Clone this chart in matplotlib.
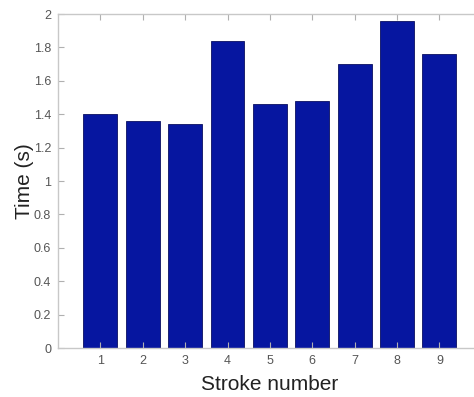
import matplotlib
matplotlib.use("Agg")
import matplotlib.pyplot as plt

plt.rcParams.update({
    "font.family": ["Liberation Sans", "DejaVu Sans"],
})

strokes = [1, 2, 3, 4, 5, 6, 7, 8, 9]
times = [1.40, 1.36, 1.34, 1.84, 1.46, 1.48, 1.70, 1.96, 1.76]
yticks = [0, 0.2, 0.4, 0.6, 0.8, 1, 1.2, 1.4, 1.6, 1.8, 2]
ytick_labels = ['0', '0.2', '0.4', '0.6', '0.8', '1', '1.2', '1.4', '1.6', '1.8', '2']

fig = plt.figure(figsize=(4.74, 3.97), dpi=100)
ax = fig.add_axes([0.1224, 0.1234, 0.894, 0.8413])

ax.bar(strokes, times, width=0.8, color='#0616a0', edgecolor='#0a1060', linewidth=0.6)

ax.set_xlim(0, 10)
ax.set_ylim(0, 2)
ax.set_xticks(strokes)
ax.set_yticks(yticks)
ax.set_yticklabels(ytick_labels)

for s in ax.spines.values():
    s.set_color('#c8c8c8')
    s.set_linewidth(1.0)
ax.tick_params(direction='in', length=4, width=0.8, color='#b0b0b0',
               labelcolor='#555555', labelsize=9, top=True, right=True, pad=5)

ax.set_xlabel('Stroke number', fontsize=15, color='#222222', labelpad=6)
ax.set_ylabel('Time (s)', fontsize=15, color='#222222', labelpad=0)

plt.savefig('out.png', dpi=100)
